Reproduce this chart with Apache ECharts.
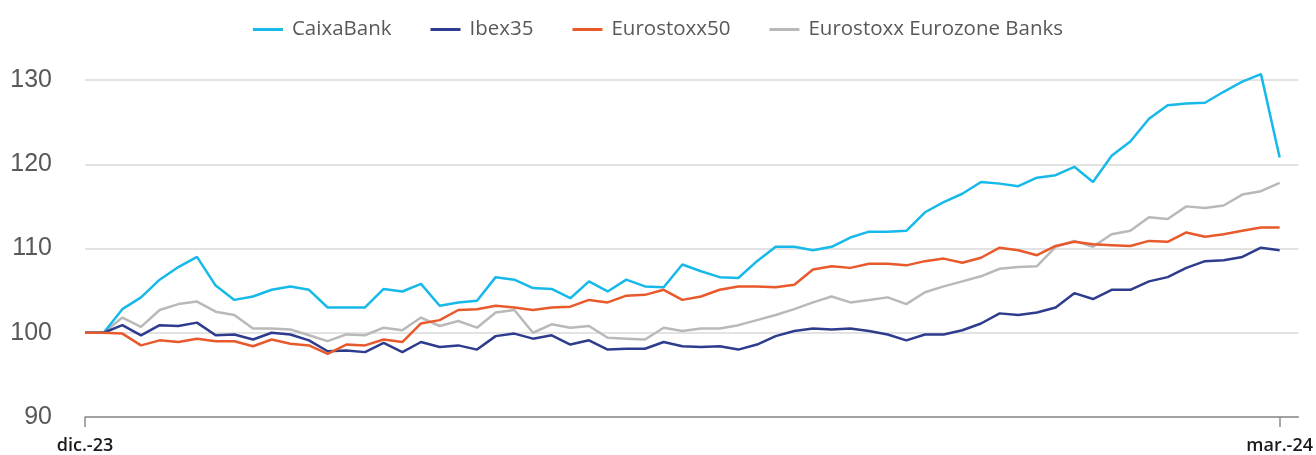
<!DOCTYPE html>
<html>
<head>
<meta charset="utf-8">
<script src="https://cdn.jsdelivr.net/npm/echarts@6/dist/echarts.min.js"></script>
<style>
  html, body { margin: 0; padding: 0; background: #fff; }
  #chart { width: 1316px; height: 455px; }
</style>
</head>
<body>
<div id="chart"></div>
<script>
// 65 sesiones entre dic.-23 y mar.-24 (base 100), más un hueco al final del eje
const categories = Array.from({ length: 66 }, (_, i) => i === 0 ? 'dic.-23' : (i === 64 ? 'mar.-24' : ''))
const labelIndex = [0, 64]

const caixaBank = [
  100, 100, 102.8, 104.2, 106.3, 107.8, 109.0, 105.6, 103.9, 104.3,
  105.1, 105.5, 105.1, 103.0, 103.0, 103.0, 105.2, 104.9, 105.8, 103.2,
  103.6, 103.8, 106.6, 106.3, 105.3, 105.2, 104.1, 106.1, 104.9, 106.3,
  105.5, 105.4, 108.1, 107.3, 106.6, 106.5, 108.5, 110.2, 110.2, 109.8,
  110.2, 111.3, 112.0, 112.0, 112.1, 114.3, 115.5, 116.5, 117.9, 117.7,
  117.4, 118.4, 118.7, 119.7, 117.9, 121.0, 122.7, 125.4, 127.0, 127.2,
  127.3, 128.6, 129.8, 130.7, 120.8
]
const ibex35 = [
  100, 100, 100.9, 99.7, 100.9, 100.8, 101.2, 99.7, 99.8, 99.2,
  100.0, 99.8, 99.1, 97.8, 97.9, 97.7, 98.8, 97.7, 98.9, 98.3,
  98.5, 98.0, 99.6, 99.9, 99.3, 99.7, 98.6, 99.1, 98.0, 98.1,
  98.1, 98.9, 98.4, 98.3, 98.4, 98.0, 98.6, 99.6, 100.2, 100.5,
  100.4, 100.5, 100.2, 99.8, 99.1, 99.8, 99.8, 100.3, 101.1, 102.3,
  102.1, 102.4, 103.0, 104.7, 104.0, 105.1, 105.1, 106.1, 106.6, 107.7,
  108.5, 108.6, 109.0, 110.1, 109.8
]
const eurostoxx50 = [
  100, 100, 99.9, 98.5, 99.1, 98.9, 99.3, 99.0, 99.0, 98.4,
  99.2, 98.7, 98.5, 97.5, 98.6, 98.5, 99.2, 98.9, 101.1, 101.5,
  102.7, 102.8, 103.2, 103.0, 102.7, 103.0, 103.1, 103.9, 103.6, 104.4,
  104.5, 105.1, 103.9, 104.3, 105.1, 105.5, 105.5, 105.4, 105.7, 107.5,
  107.9, 107.7, 108.2, 108.2, 108.0, 108.5, 108.8, 108.3, 108.9, 110.1,
  109.8, 109.2, 110.3, 110.8, 110.5, 110.4, 110.3, 110.9, 110.8, 111.9,
  111.4, 111.7, 112.1, 112.5, 112.5
]
const eurozoneBanks = [
  100, 100, 101.8, 100.7, 102.7, 103.4, 103.7, 102.5, 102.1, 100.5,
  100.5, 100.4, 99.7, 99.0, 99.8, 99.7, 100.6, 100.3, 101.8, 100.8,
  101.4, 100.6, 102.4, 102.7, 100.0, 101.0, 100.6, 100.8, 99.4, 99.3,
  99.2, 100.6, 100.2, 100.5, 100.5, 100.9, 101.5, 102.1, 102.8, 103.6,
  104.3, 103.6, 103.9, 104.2, 103.4, 104.8, 105.5, 106.1, 106.7, 107.6,
  107.8, 107.9, 110.2, 110.9, 110.2, 111.7, 112.1, 113.7, 113.5, 115.0,
  114.8, 115.1, 116.4, 116.8, 117.8
]

const seriesList = [
  { name: 'CaixaBank', data: caixaBank, color: '#16b9e9' },
  { name: 'Ibex35', data: ibex35, color: '#2d3c8d' },
  { name: 'Eurostoxx50', data: eurostoxx50, color: '#e8592b' },
  { name: 'Eurostoxx Eurozone Banks', data: eurozoneBanks, color: '#b9b9b9' }
]

let myChart = echarts.init(document.getElementById('chart'))
myChart.setOption({
  animation: false,
  legend: {
    top: 14,
    left: 'center',
    icon: 'rect',
    itemWidth: 30,
    itemHeight: 3,
    itemGap: 39,
    textStyle: { fontFamily: 'Open Sans', fontSize: 20.5, color: '#595959', padding: [0, 0, 0, 4] },
    data: seriesList.map(s => s.name)
  },
  grid: { left: 85, right: 15, top: 80, bottom: 37 },
  xAxis: {
    type: 'category',
    boundaryGap: false,
    data: categories,
    axisLine: { lineStyle: { color: '#8c8c8c', width: 1.5 } },
    axisTick: {
      interval: (i) => labelIndex.includes(i),
      length: 10,
      lineStyle: { color: '#8c8c8c', width: 1.5 }
    },
    axisLabel: {
      interval: (i) => labelIndex.includes(i),
      margin: 20,
      fontFamily: 'Open Sans',
      fontSize: 18,
      fontWeight: 600,
      color: '#1a1a1a'
    },
    splitLine: { show: false }
  },
  yAxis: {
    type: 'value',
    min: 90,
    max: 130,
    interval: 10,
    axisLine: { show: false },
    axisTick: { show: false },
    axisLabel: {
      margin: 33,
      fontFamily: 'Liberation Sans',
      fontSize: 25,
      color: '#595959'
    },
    splitLine: { lineStyle: { color: '#e3e3e3', width: 2 } }
  },
  series: seriesList.map(s => ({
    name: s.name,
    type: 'line',
    data: s.data,
    symbol: 'none',
    clip: false,
    color: s.color,
    lineStyle: { color: s.color, width: 2.5 },
    z: s.name === 'Eurostoxx Eurozone Banks' ? 1 : 2
  }))
})
</script>
</body>
</html>
